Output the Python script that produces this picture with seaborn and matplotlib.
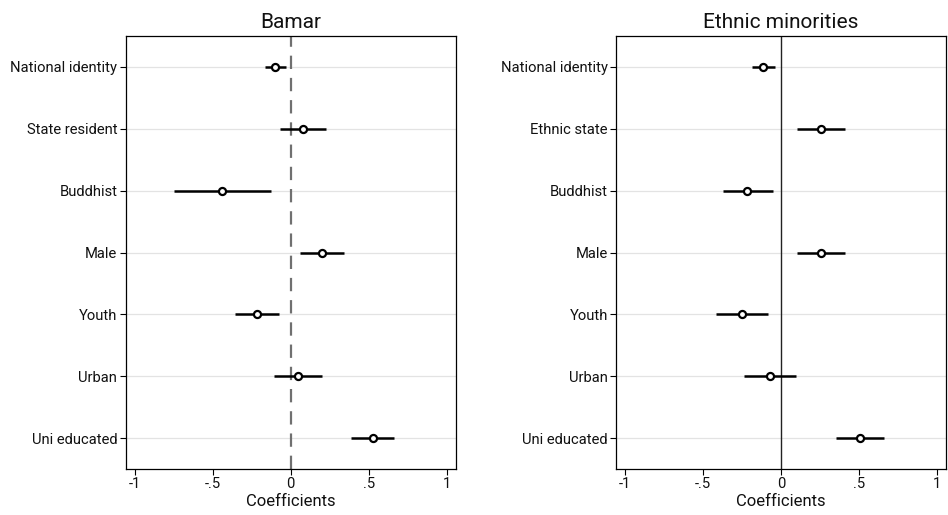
import pandas as pd
import matplotlib.pyplot as plt
import seaborn as sns
import matplotlib

matplotlib.use("Agg")

# -------------------------
# 数据
# -------------------------
bamar_vars = ["National identity", "State resident", "Buddhist", "Male", "Youth", "Urban", "Uni educated"]
bamar_coef = [-0.099, 0.077, -0.438, 0.199, -0.218, 0.047, 0.526]
bamar_lo = [-0.163, -0.067, -0.748, 0.060, -0.357, -0.105, 0.387]
bamar_hi = [-0.032, 0.224, -0.128, 0.342, -0.077, 0.200, 0.664]

ethnic_vars = ["National identity", "Ethnic state", "Buddhist", "Male", "Youth", "Urban", "Uni educated"]
ethnic_coef = [-0.113, 0.254, -0.218, 0.254, -0.250, -0.070, 0.506]
ethnic_lo = [-0.184, 0.102, -0.373, 0.102, -0.416, -0.237, 0.352]
ethnic_hi = [-0.038, 0.410, -0.053, 0.412, -0.085, 0.094, 0.661]

xticks = [-1, -0.5, 0, 0.5, 1]
xtick_labels = ["-1", "-.5", "0", ".5", "1"]

sns.set_theme(style="white")
plt.rcParams['font.family'] = ['Roboto', 'DejaVu Sans']
plt.rcParams['text.color'] = '#111111'
plt.rcParams['axes.labelcolor'] = '#111111'
plt.rcParams['xtick.labelcolor'] = '#111111'
plt.rcParams['ytick.labelcolor'] = '#111111'

fig = plt.figure(figsize=(9.48, 5.15), dpi=100)
ax1 = fig.add_axes([0.1326, 0.0893, 0.348, 0.8408])
ax2 = fig.add_axes([0.650, 0.0893, 0.3478, 0.8408])


def coef_panel(ax, names, coef, lo, hi, title, dashed):
    df = pd.DataFrame({"var": names, "coef": coef, "lo": lo, "hi": hi})
    pos = list(range(len(df)))
    for y in pos:
        ax.axhline(y, color="#e3e3e3", lw=0.9, zorder=0)
    if dashed:
        ax.axvline(0, color="#707070", lw=1.6, ls=(0, (6, 4)), zorder=1)
    else:
        ax.axvline(0, color="#222222", lw=1.0, zorder=1)
    ax.hlines(pos, df["lo"], df["hi"], color="black", lw=1.8, zorder=2)
    sns.scatterplot(x=df["coef"], y=pos, ax=ax, marker="o", s=26,
                    facecolor="white", edgecolor="black", linewidth=1.6, zorder=3)
    ax.set_yticks(pos)
    ax.set_yticklabels(df["var"])
    ax.set_ylim(6.5, -0.5)
    ax.set_xlim(-1.058, 1.058)
    ax.set_xticks(xticks)
    ax.set_xticklabels(xtick_labels)
    ax.set_xlabel("Coefficients", fontsize=12, labelpad=2)
    ax.set_ylabel("")
    ax.set_title(title, fontsize=15, pad=6)
    ax.tick_params(axis="both", which="both", direction="out", length=4, width=0.8,
                   color="black", labelsize=10.6, left=True, bottom=True, pad=2)
    for sp in ax.spines.values():
        sp.set_color("black")
        sp.set_linewidth(0.9)


coef_panel(ax1, bamar_vars, bamar_coef, bamar_lo, bamar_hi, "Bamar", True)
coef_panel(ax2, ethnic_vars, ethnic_coef, ethnic_lo, ethnic_hi, "Ethnic minorities", False)

fig.savefig("out.png", dpi=100)
